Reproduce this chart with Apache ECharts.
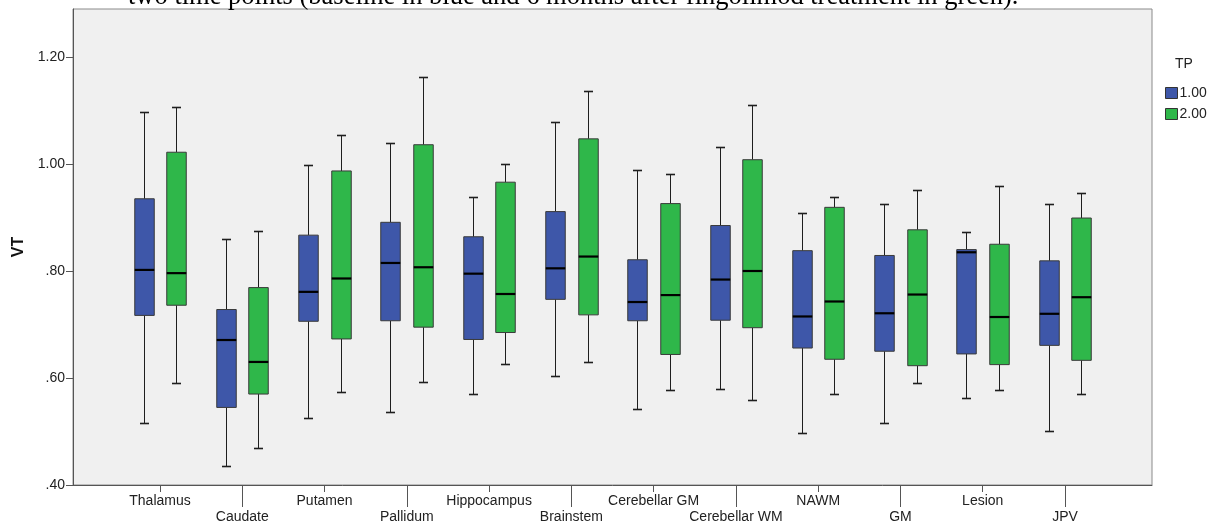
<!DOCTYPE html>
<html>
<head>
<meta charset="utf-8">
<style>
  html, body { margin: 0; padding: 0; background: #fff; }
  #chart { width: 1216px; height: 524px; }
</style>
<script src="https://cdn.jsdelivr.net/npm/echarts@6/dist/echarts.min.js"></script>
</head>
<body>
<div id="chart"></div>
<script>
// Regions of interest, in axis order
const categories = ['Thalamus', 'Caudate', 'Putamen', 'Pallidum', 'Hippocampus', 'Brainstem',
  'Cerebellar GM', 'Cerebellar WM', 'NAWM', 'GM', 'Lesion', 'JPV'];

// VT per region, each row: [min, Q1, median, Q3, max]
const tp1 = [
  [0.515, 0.717, 0.802, 0.935, 1.098],
  [0.436, 0.545, 0.671, 0.728, 0.860],
  [0.525, 0.706, 0.761, 0.867, 0.999],
  [0.536, 0.707, 0.815, 0.891, 1.040],
  [0.570, 0.672, 0.795, 0.864, 0.938],
  [0.604, 0.747, 0.805, 0.911, 1.079],
  [0.542, 0.707, 0.742, 0.821, 0.988],
  [0.579, 0.708, 0.784, 0.885, 1.032],
  [0.498, 0.656, 0.715, 0.838, 0.909],
  [0.515, 0.650, 0.721, 0.829, 0.926],
  [0.562, 0.645, 0.835, 0.840, 0.873],
  [0.501, 0.661, 0.720, 0.819, 0.926]
];
const tp2 = [
  [0.590, 0.736, 0.796, 1.022, 1.106],
  [0.469, 0.570, 0.630, 0.769, 0.875],
  [0.574, 0.673, 0.786, 0.987, 1.054],
  [0.592, 0.695, 0.807, 1.036, 1.163],
  [0.627, 0.685, 0.757, 0.966, 1.000],
  [0.630, 0.718, 0.827, 1.047, 1.136],
  [0.578, 0.644, 0.755, 0.926, 0.982],
  [0.559, 0.694, 0.800, 1.008, 1.110],
  [0.571, 0.635, 0.743, 0.919, 0.938],
  [0.591, 0.623, 0.756, 0.877, 0.951],
  [0.578, 0.625, 0.714, 0.850, 0.959],
  [0.571, 0.633, 0.751, 0.899, 0.946]
];

const yTicks = [0.4, 0.6, 0.8, 1.0, 1.2];
const seriesNames = ['1.00', '2.00'];

const FONT = '"Liberation Sans", Arial, sans-serif';
const BLUE = '#3e57a9';
const GREEN = '#2fb74a';

const catIdx = categories.map((_, i) => i);
const evenIdx = catIdx.filter(i => i % 2 === 0);
const oddIdx = catIdx.filter(i => i % 2 === 1);

function rows(stats) {
  return stats.map((s, i) => [i].concat(s));
}

function px(v) { return Math.round(v) + 0.5; }

// Box with whiskers and short caps, placed beside the category centre
function boxRenderer(offset, fill) {
  return function (params, api) {
    const cat = api.value(0);
    const xc = px(api.coord([cat, 0.4])[0] + offset);
    const yv = k => api.coord([cat, api.value(k)])[1];
    const yMin = px(yv(1)), yQ1 = yv(2), yMed = yv(3), yQ3 = yv(4), yMax = px(yv(5));
    const half = 9.75, cap = 4.5;
    const whisk = { stroke: '#1e1e1e', lineWidth: 1 };
    const capStyle = { stroke: '#1e1e1e', lineWidth: 1.6 };
    return {
      type: 'group',
      children: [
        { type: 'line', shape: { x1: xc, y1: yMax, x2: xc, y2: yQ3 }, style: whisk },
        { type: 'line', shape: { x1: xc, y1: yQ1, x2: xc, y2: yMin }, style: whisk },
        { type: 'line', shape: { x1: xc - cap, y1: yMax, x2: xc + cap, y2: yMax }, style: capStyle },
        { type: 'line', shape: { x1: xc - cap, y1: yMin, x2: xc + cap, y2: yMin }, style: capStyle },
        { type: 'rect', shape: { x: xc - half, y: yQ3, width: half * 2, height: yQ1 - yQ3 },
          style: { fill: fill, stroke: '#3a3a3a', lineWidth: 1 } },
        { type: 'line', shape: { x1: xc - half, y1: yMed, x2: xc + half, y2: yMed },
          style: { stroke: '#000', lineWidth: 2.2 } }
      ]
    };
  };
}

const xBase = {
  type: 'value',
  min: -1.0575,
  max: 12.0575,
  position: 'bottom',
  splitLine: { show: false },
  axisLine: { show: true, onZero: false, lineStyle: { color: '#555', width: 1 } }
};

const chart = echarts.init(document.getElementById('chart'), null, { renderer: 'canvas' });
chart.setOption({
  animation: false,
  backgroundColor: '#ffffff',
  textStyle: { fontFamily: FONT },
  grid: {
    left: 73, right: 64, top: 9, bottom: 39,
    show: true, backgroundColor: '#f0f0f0', borderColor: '#8a8a8a', borderWidth: 1
  },
  xAxis: [
    Object.assign({}, xBase, {
      axisTick: { show: true, length: 7, customValues: evenIdx, lineStyle: { color: '#555' } },
      axisLabel: {
        customValues: evenIdx, margin: 9, fontSize: 14, color: '#222', fontFamily: FONT,
        formatter: v => categories[Math.round(v)]
      }
    }),
    Object.assign({}, xBase, {
      axisLine: { show: false, onZero: false },
      axisTick: { show: true, length: 22, customValues: oddIdx, lineStyle: { color: '#555' } },
      axisLabel: {
        customValues: oddIdx, margin: 25, fontSize: 14, color: '#222', fontFamily: FONT,
        formatter: v => categories[Math.round(v)]
      }
    })
  ],
  yAxis: {
    type: 'value',
    position: 'left',
    min: 0.4,
    max: 1.2897,
    name: 'VT',
    nameLocation: 'middle',
    nameGap: 46,
    nameRotate: 90,
    nameTextStyle: { fontSize: 16, fontWeight: 'bold', color: '#111', fontFamily: FONT },
    splitLine: { show: false },
    axisLine: { show: true, onZero: false, lineStyle: { color: '#555', width: 1 } },
    axisTick: { show: true, length: 7, customValues: yTicks, lineStyle: { color: '#555' } },
    axisLabel: {
      customValues: yTicks, margin: 8, fontSize: 14, color: '#222', fontFamily: FONT,
      formatter: v => v.toFixed(2).replace(/^0/, '')
    }
  },
  legend: {
    orient: 'vertical',
    left: 1160,
    top: 81,
    itemWidth: 12,
    itemHeight: 11,
    itemGap: 7,
    icon: 'rect',
    itemStyle: { borderColor: '#333', borderWidth: 1 },
    textStyle: { fontSize: 14, color: '#222', fontFamily: FONT, padding: [0, 0, 0, -3] },
    data: seriesNames
  },
  graphic: [
    {
      type: 'text', left: 1175, top: 57,
      style: { text: 'TP', font: '14px ' + FONT, fill: '#222' }
    },
    {
      type: 'text', x: 128, y: -3, silent: true,
      style: {
        text: 'two time points (baseline in blue and 6 months after fingolimod treatment in green).',
        font: '26.5px "Liberation Serif", "Times New Roman", serif',
        fill: '#000', verticalAlign: 'middle', align: 'left'
      }
    }
  ],
  series: [
    {
      name: seriesNames[0], type: 'custom', color: BLUE,
      xAxisIndex: 0, yAxisIndex: 0,
      renderItem: boxRenderer(-16.4, BLUE),
      encode: { x: 0, y: [1, 2, 3, 4, 5] },
      data: rows(tp1)
    },
    {
      name: seriesNames[1], type: 'custom', color: GREEN,
      xAxisIndex: 0, yAxisIndex: 0,
      renderItem: boxRenderer(16.2, GREEN),
      encode: { x: 0, y: [1, 2, 3, 4, 5] },
      data: rows(tp2)
    }
  ]
});
</script>
</body>
</html>
